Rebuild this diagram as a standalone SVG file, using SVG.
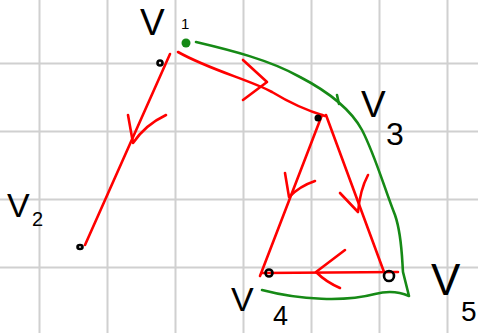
<svg xmlns="http://www.w3.org/2000/svg" width="478" height="333" viewBox="0 0 478 333">
<style>
.grid{stroke:#d0d0d0;stroke-width:2}
.red{fill:none;stroke:#ff0000;stroke-width:2.6;stroke-linecap:round;stroke-linejoin:round}
.green{fill:none;stroke:#168a16;stroke-width:2.6;stroke-linecap:round;stroke-linejoin:round}
.lbl{font-family:"Liberation Sans",Arial,sans-serif;fill:#000}
.pt{fill:none;stroke:#000;stroke-width:2.6}
</style>
<rect width="478" height="333" fill="#fff"/>
<g id="grid">
<line class="grid" x1="39.5" y1="0" x2="39.5" y2="333"/>
<line class="grid" x1="107.5" y1="0" x2="107.5" y2="333"/>
<line class="grid" x1="175.5" y1="0" x2="175.5" y2="333"/>
<line class="grid" x1="243.5" y1="0" x2="243.5" y2="333"/>
<line class="grid" x1="311.5" y1="0" x2="311.5" y2="333"/>
<line class="grid" x1="379.5" y1="0" x2="379.5" y2="333"/>
<line class="grid" x1="447.5" y1="0" x2="447.5" y2="333"/>
<line class="grid" x1="0" y1="63.5" x2="478" y2="63.5"/>
<line class="grid" x1="0" y1="131.5" x2="478" y2="131.5"/>
<line class="grid" x1="0" y1="199.5" x2="478" y2="199.5"/>
<line class="grid" x1="0" y1="267.5" x2="478" y2="267.5"/>
</g>
<g id="connectors">
<path class="green" d="M196,42 C230,50 270,60 300,77 C325,90 350,108 362,130 C375,155 385,190 395,215 C402,235 402,260 403,272 L409,296 C400,292 390,290 375,294 C345,302 300,300 262,290"/>
<path class="green" d="M337,95 L339,104"/>
<path class="red" d="M170,54 L85,245"/>
<path class="red" d="M128,115 L133,143 Q145,125 166,115"/>
<path class="red" d="M178,52 C210,70 250,80 272,92 C290,103 305,110 325,116"/>
<path class="red" d="M243,60 L267,82 L243,100"/>
<path class="red" d="M322,115 L260,276"/>
<path class="red" d="M285,173 L289,197 Q300,186 315,181"/>
<path class="red" d="M326,115 L384,272"/>
<path class="red" d="M340,193 L358,212 Q360,190 368,175"/>
<path class="red" d="M398,272 L262,273"/>
<path class="red" d="M345,250 L316,272 Q326,282 340,288"/>
</g>
<g id="v1">
<circle cx="186" cy="43" r="4.5" fill="#168a16"/>
<circle class="pt" cx="160" cy="63" r="2.5"/>
<text class="lbl" x="140" y="35" font-size="37">V</text>
<text class="lbl" x="181" y="29" font-size="15">1</text>
</g>
<g id="v2">
<ellipse class="pt" cx="80" cy="247" rx="2.5" ry="2"/>
<text class="lbl" x="7" y="217" font-size="34">V</text>
<text class="lbl" x="32" y="226" font-size="20">2</text>
</g>
<g id="v3">
<circle cx="318" cy="118" r="3.5" fill="#000"/>
<text class="lbl" x="361" y="117" font-size="37">V</text>
<text class="lbl" x="386" y="145" font-size="32">3</text>
</g>
<g id="v4">
<circle class="pt" cx="269" cy="273" r="3.5"/>
<text class="lbl" x="231" y="311" font-size="34">V</text>
<text class="lbl" x="273" y="325" font-size="27">4</text>
</g>
<g id="v5">
<circle class="pt" cx="389" cy="276" r="5"/>
<text class="lbl" x="431" y="295" font-size="44">V</text>
<text class="lbl" x="461" y="321" font-size="28">5</text>
</g>
</svg>
